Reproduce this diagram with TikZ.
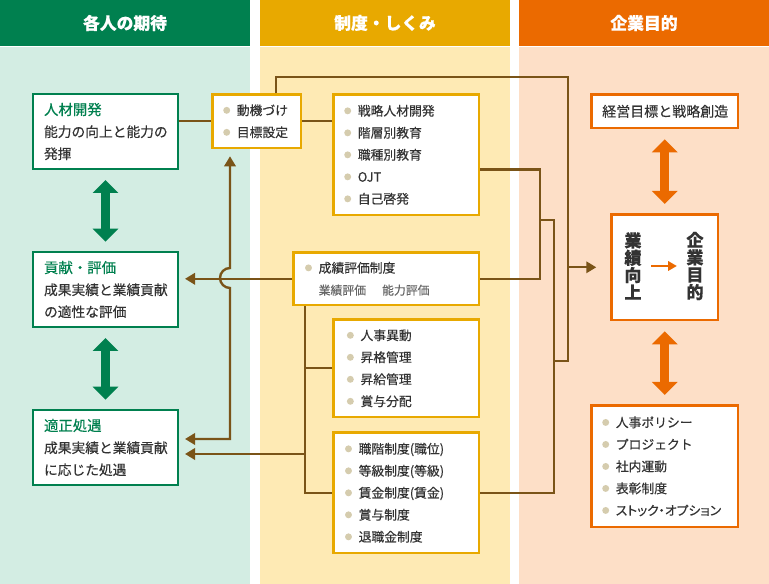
\documentclass[tikz,border=0pt]{standalone}
\usepackage{fontspec}
\setmainfont{Noto Sans CJK JP}[FakeBold=0.3]
\usetikzlibrary{arrows.meta}
\definecolor{headgreen}{HTML}{00804F}
\definecolor{headyellow}{HTML}{E8A900}
\definecolor{headorange}{HTML}{EB6A00}
\definecolor{bggreen}{HTML}{D3EDE3}
\definecolor{bgyellow}{HTML}{FEEAB4}
\definecolor{bgorange}{HTML}{FDDFC7}
\definecolor{linebrown}{HTML}{7A5418}
\definecolor{dotgray}{HTML}{D5CCAE}
\definecolor{textgray}{HTML}{333333}
\definecolor{subgray}{HTML}{666666}
\newcommand\bul{\tikz[baseline=-3.6pt]\fill[dotgray] (0,0) circle (2.6pt);\hspace{5pt}}
\newcommand\gtitle[1]{{\color{headgreen}\fontsize{10.8}{16.5}\selectfont #1}}
\tikzset{
  colhead/.style={minimum height=34.5pt, minimum width=187.5pt, inner sep=0pt, text=white, font=\fontsize{12.6}{14}\selectfont\bfseries},
  gbox/.style={draw=headgreen, line width=1.6pt, fill=white, anchor=north west, align=left, text width=92.15pt, inner xsep=8.25pt, inner ysep=2pt, minimum height=56.15pt, text=textgray, font=\fontsize{10.3}{16.5}\selectfont},
  ybox/.style={draw=headyellow, line width=1.9pt, fill=white, anchor=north west, align=left, inner xsep=8pt, inner ysep=2pt, text=textgray, font=\fontsize{9.6}{16.5}\selectfont},
  obox/.style={ybox, draw=headorange},
  vtext/.style={align=center, inner sep=0pt, text=textgray, font=\fontsize{12.8}{13}\selectfont\bfseries},
  conn/.style={draw=linebrown, line width=1.8pt},
  btip/.style={-{Triangle[width=8.5pt,length=7.5pt]}},
  btips/.style={{Triangle[width=8.5pt,length=7.5pt]}-{Triangle[width=8.5pt,length=7.5pt]}},
  garrow/.style={draw=headgreen, line width=6.75pt, {Triangle[width=18.75pt,length=9.75pt]}-{Triangle[width=18.75pt,length=9.75pt]}, shorten <=7.5pt, shorten >=7pt},
  oarrow/.style={garrow, draw=headorange},
}
\begin{document}
\begin{tikzpicture}[x=0.75pt,y=-0.75pt]
\useasboundingbox (0,0) rectangle (769,584);
\fill[white] (0,0) rectangle (769,584);
\fill[bggreen] (0,47) rectangle (250,584);
\fill[bgyellow] (260,47) rectangle (510,584);
\fill[bgorange] (519,47) rectangle (769,584);
\node (hd1) [colhead, fill=headgreen] at (125,23) {各人の期待};
\node (hd2) [colhead, fill=headyellow] at (385,23) {制度・しくみ};
\node (hd3) [colhead, fill=headorange] at (644,23) {企業目的};

\node (jinzai) [gbox] at (32,93) {\gtitle{人材開発}\\能力の向上と能力の\\発揮};
\node (koken) [gbox] at (32,251) {\gtitle{貢献・評価}\\成果実績と業績貢献\\の適性な評価};
\node (tekisei) [gbox] at (32,409) {\gtitle{適正処遇}\\成果実績と業績貢献\\に応じた処遇};

\node (doki) [ybox, text width=50.35pt, minimum height=40.1pt] at (211.3,93.3) {\bul 動機づけ\\\bul 目標設定};
\node (senryaku) [ybox, text width=93.1pt, minimum height=90.35pt] at (332.3,93.3) {\bul 戦略人材開発\\\bul 階層別教育\\\bul 職種別教育\\\bul OJT\\\bul 自己啓発};
\node (seiseki) [ybox, text width=121.9pt, inner xsep=8.6pt, minimum height=39.35pt] at (292.3,251.3) {\bul 成績評価制度\\\hspace*{10.2pt}{\color{subgray}\fontsize{8.9}{16.5}\selectfont 業績評価\hspace{12pt}能力評価}};
\node (jinji) [ybox, text width=89.1pt, inner xsep=10pt, minimum height=73.1pt] at (332.3,318.3) {\bul 人事異動\\\bul 昇格管理\\\bul 昇給管理\\\bul 賞与分配};
\node (shokkai) [ybox, text width=91.9pt, inner xsep=8.6pt, minimum height=90.35pt] at (332.3,431.3) {\bul 職階制度(職位)\\\bul 等級制度(等級)\\\bul 賃金制度(賃金)\\\bul 賞与制度\\\bul 退職金制度};

\node (keiei) [obox, align=center, text width=93.85pt, minimum height=25.1pt, font=\fontsize{10.5}{12}\selectfont] at (590.3,93.3) {経営目標と戦略創造};
\node (gyoseki) [obox, minimum width=79.85pt, minimum height=79.1pt] at (610.3,213.3) {};
\node (policy) [obox, text width=93.85pt, minimum height=91.1pt] at (590.3,404.3) {\bul 人事ポリシー\\\bul プロジェクト\\\bul 社内運動\\\bul 表彰制度\\\bul {\addfontfeature{RawFeature=+palt}ストック・オプション}};
\node (kojo) [vtext] at (633,266) {業\\績\\向\\上};
\node (mokuteki) [vtext] at (695,266) {企\\業\\目\\的};

\coordinate (loop) at (568,77);
\coordinate (join) at (568,361);
\coordinate (brk) at (540,220);
\coordinate (spine) at (554,220);
\coordinate (hop) at (230,278);
\coordinate (low) at (230,439);
\coordinate (stem) at (305,454);

\draw[conn] (jinzai.east |- doki.west) -- (doki.west);
\draw[conn] (doki.east) -- (doki.east -| senryaku.west);
\draw[conn] ([xshift=14.6pt]doki.north) |- (loop) -- (join) -- (join -| spine);
\draw[conn] ([yshift=-10.9pt]senryaku.east) -| (brk) |- (seiseki.east);
\draw[conn] (brk) -- (spine) |- (shokkai.east);
\draw[conn, btip, shorten >=10.5pt] (join |- gyoseki.west) -- (gyoseki.west);
\draw[conn, btip, shorten >=4.5pt] (seiseki.west) -- (seiseki.west -| koken.east);
\draw[conn, btips, shorten <=4.5pt, shorten >=5.25pt] (low -| tekisei.east) -- (low) -- ([yshift=-7.5pt]hop) arc[start angle=270, end angle=90, radius=7.5pt] -- (hop |- doki.south);
\draw[conn] (stem |- seiseki.south) -- (stem |- shokkai.west) -- (shokkai.west);
\draw[conn] (jinji.west) -- (jinji.west -| stem);
\draw[conn, btip, shorten >=4.5pt] (stem) -- (stem -| tekisei.east);

\draw[garrow] (jinzai.south) -- (koken.north);
\draw[garrow] (koken.south) -- (tekisei.north);
\draw[oarrow] (keiei.south) -- (gyoseki.north);
\draw[oarrow] (gyoseki.south) -- (policy.north);
\draw[draw=headorange, line width=1.5pt, -{Triangle[width=7pt,length=6.5pt]}, shorten <=7pt, shorten >=7pt] (kojo) -- (mokuteki);
\end{tikzpicture}
\end{document}
